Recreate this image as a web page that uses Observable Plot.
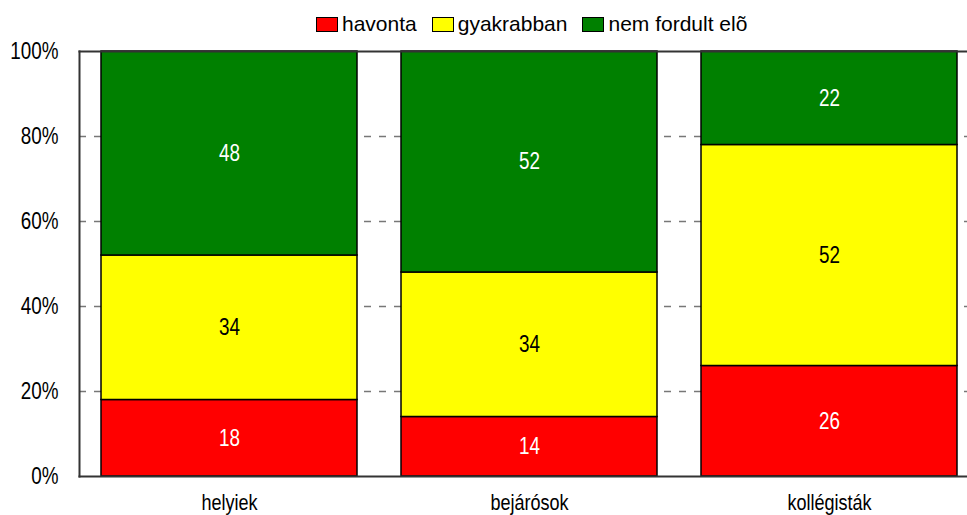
<!DOCTYPE html>
<html><head><meta charset="utf-8">
<script src="https://cdn.jsdelivr.net/npm/d3@7"></script>
<script src="https://cdn.jsdelivr.net/npm/@observablehq/plot@0.6"></script>
<style>
html,body{margin:0;background:#fff;font-family:"Liberation Sans",Arial,sans-serif;overflow:hidden;width:967px;height:515px}
#legend{position:absolute;left:316px;top:8px;display:flex;align-items:center;font-size:21px;height:32px;color:#000}
.item{display:flex;align-items:center;margin-right:15px}
.sw{width:20px;height:13px;border:1px solid #000;margin-right:4px}
#chart{position:absolute;left:0;top:40px}
</style></head><body>
<div id="legend"></div><div id="chart"></div>
<script>
const categories = ["helyiek", "bejárósok", "kollégisták"];
const series = ["havonta", "gyakrabban", "nem fordult elõ"];
const havonta = [18, 14, 26];
const gyakrabban = [34, 34, 52];
const nemFordultElo = [48, 52, 22];
const yTicks = [0, 20, 40, 60, 80, 100];
const gridTicks = [20, 40, 60, 80];
const seriesColors = ["#ff0000", "#ffff00", "#008000"];
const labelColors = ["#ffffff", "#000000", "#ffffff"];

const seriesValues = [havonta, gyakrabban, nemFordultElo];
const rows = [];
categories.forEach((cat, i) => {
  series.forEach((s, j) => rows.push({cat, series: s, si: j, value: seriesValues[j][i]}));
});

const legend = document.getElementById("legend");
series.forEach((s, j) => {
  const it = document.createElement("div"); it.className = "item";
  const sw = document.createElement("div"); sw.className = "sw"; sw.style.background = seriesColors[j];
  const tx = document.createElement("span"); tx.textContent = s;
  it.appendChild(sw); it.appendChild(tx); legend.appendChild(it);
});

const font = '"Liberation Sans", Arial, sans-serif';

const plot = Plot.plot({
  width: 967, height: 475,
  marginTop: 11, marginBottom: 39, marginLeft: 79, marginRight: 0,
  x: {domain: categories, range: [79, 979], paddingInner: 0.147, paddingOuter: 0.0735, label: null},
  y: {domain: [0, 100], label: null},
  color: {type: "identity"},
  style: {fontFamily: font, background: "transparent", overflow: "visible"},
  marks: [
    Plot.ruleY(gridTicks, {stroke: "#777", strokeWidth: 1.5, strokeDasharray: "7,8"}),
    Plot.barY(rows, Plot.stackY({x: "cat", y: "value", z: "series", fill: d => seriesColors[d.si], stroke: "#000", strokeWidth: 1.5})),
    Plot.text(rows, Plot.stackY({x: "cat", y: "value", z: "series", text: d => String(d.value), fill: d => labelColors[d.si], fontSize: 23})),
    Plot.axisY(yTicks, {tickSize: 0, tickPadding: 21, tickFormat: d => d + "%", fontSize: 23, fill: "#000", label: null}),
    Plot.axisX({tickSize: 0, tickPadding: 18, fontSize: 22, fill: "#000", label: null}),
    Plot.frame({anchor: "left", stroke: "#333", strokeWidth: 2}),
    Plot.frame({anchor: "bottom", stroke: "#333", strokeWidth: 2}),
    Plot.frame({anchor: "top", stroke: "#333", strokeWidth: 2})
  ]
});
// condense glyphs horizontally around each text's anchor point
plot.querySelectorAll("text").forEach(t => {
  const tr = t.getAttribute("transform") || "";
  t.setAttribute("transform", (tr + " scale(0.82,1)").trim());
});
document.getElementById("chart").appendChild(plot);
</script>
</body></html>
